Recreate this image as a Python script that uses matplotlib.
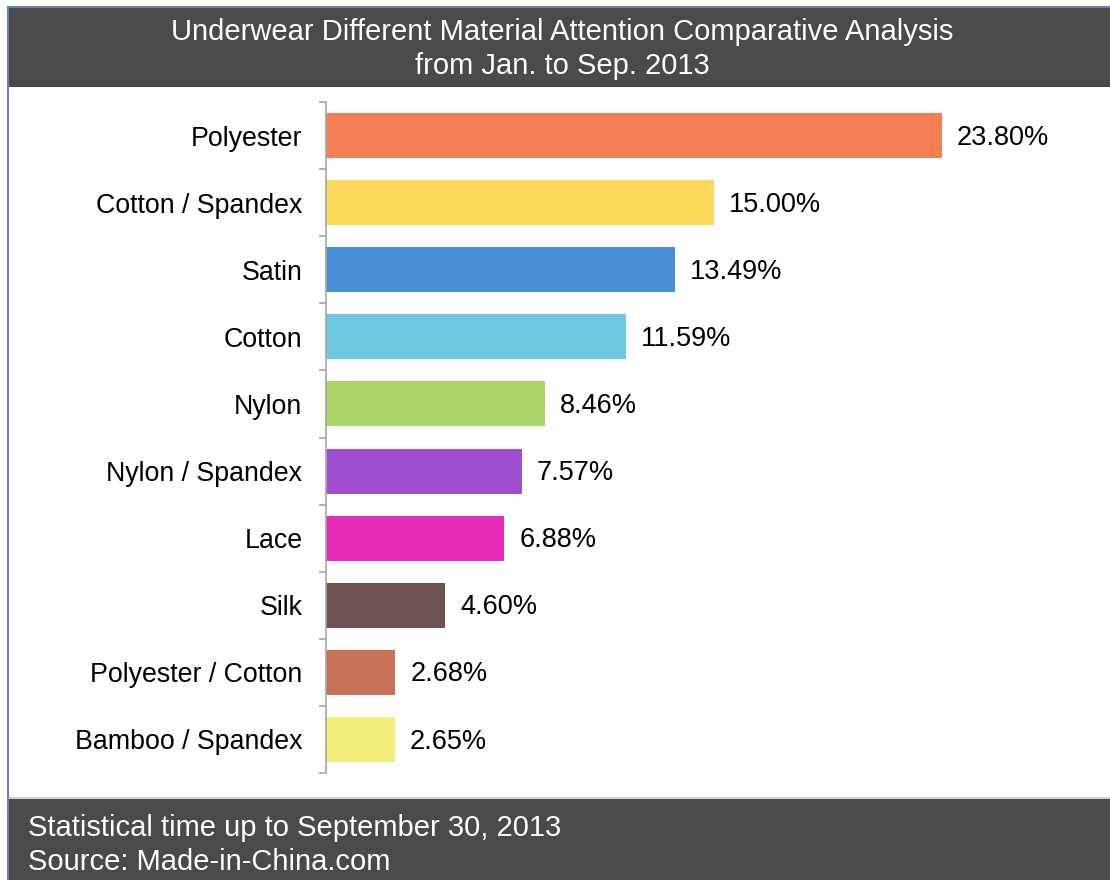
import matplotlib.pyplot as plt
from matplotlib.patches import Rectangle
import numpy as np

plt.rcParams['font.family'] = ['Liberation Sans', 'DejaVu Sans']

materials = ['Polyester', 'Cotton / Spandex', 'Satin', 'Cotton', 'Nylon',
             'Nylon / Spandex', 'Lace', 'Silk', 'Polyester / Cotton', 'Bamboo / Spandex']
shares = [23.80, 15.00, 13.49, 11.59, 8.46, 7.57, 6.88, 4.60, 2.68, 2.65]
colors = ['#F47E56', '#F9D85A', '#4A90D9', '#6CC8E1', '#A8D566',
          '#A14FD2', '#E62BB9', '#6E5151', '#C97158', '#F2EE7A']

title = 'Underwear Different Material Attention Comparative Analysis\nfrom Jan. to Sep. 2013'
footer = 'Statistical time up to September 30, 2013\nSource: Made-in-China.com'

W, H = 1110, 880
fig = plt.figure(figsize=(W / 100, H / 100), dpi=100)

# frame pieces in pixel coordinates -> figure fractions
def box(x0, y0, x1, y1, **kw):
    fig.add_artist(Rectangle((x0 / W, 1 - y1 / H), (x1 - x0) / W, (y1 - y0) / H,
                             transform=fig.transFigure, **kw))

box(8, 8, W, 87, facecolor='#4A4A4A', edgecolor='none')
box(8, 798, W, H, facecolor='#4A4A4A', edgecolor='none')
box(8, 797, W, 799, facecolor='#D0D0D0', edgecolor='none')
box(7, 6, 9, H, facecolor='#5B86C0', edgecolor='none')
box(7, 6, W, 8, facecolor='#5B86C0', edgecolor='none')

fig.text(562 / W, 1 - 49 / H, title, color='white', fontsize=21,
         ha='center', va='center', linespacing=1.28)
fig.text(28 / W, 1 - 845 / H, footer, color='white', fontsize=21,
         ha='left', va='center', linespacing=1.25)

ax = fig.add_axes([326 / W, 1 - 773 / H, 776 / W, 671 / H])
y = np.arange(len(materials))
ax.barh(y, shares, height=0.67, color=colors)
ax.set_xlim(0, 30)
ax.set_ylim(len(materials) - 0.5, -0.5)

for yi, v in zip(y, shares):
    ax.annotate(f'{v:.2f}%', (v, yi), xytext=(11, -1.5), textcoords='offset points',
                ha='left', va='center', fontsize=19.5, color='black')

for s in ['top', 'right', 'bottom']:
    ax.spines[s].set_visible(False)
ax.spines['left'].set_color('#A6A6A6')
ax.spines['left'].set_linewidth(1.2)
ax.set_xticks([])
ax.set_yticks(y)
ax.set_yticklabels(materials, fontsize=19.3)
ax.set_yticks(np.arange(len(materials) + 1) - 0.5, minor=True)
ax.tick_params(axis='y', which='major', length=0, pad=17)
ax.tick_params(axis='y', which='minor', length=5, width=1.2, color='#A6A6A6')

fig.savefig('out.png', dpi=100)
